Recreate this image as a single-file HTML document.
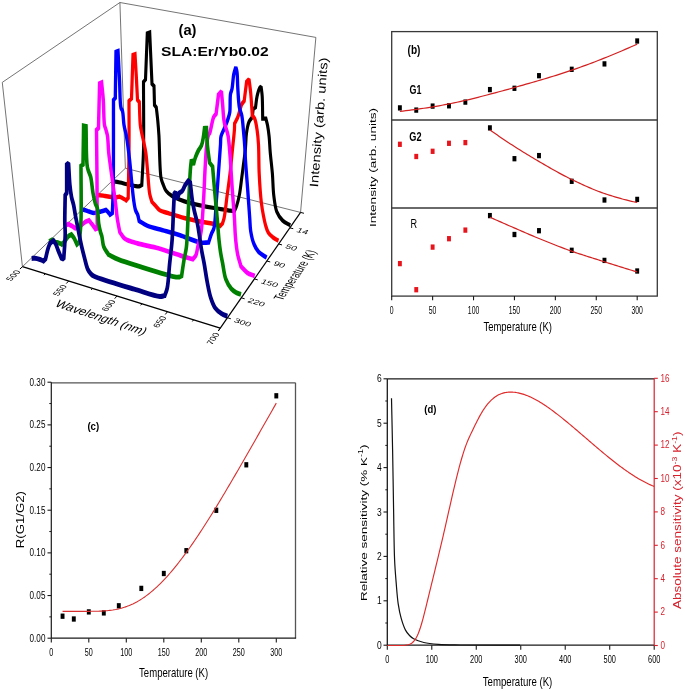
<!DOCTYPE html>
<html><head><meta charset="utf-8"><style>
html,body{margin:0;padding:0;background:#fff;}
body{width:685px;height:691px;overflow:hidden;}
svg{display:block;will-change:transform;}
text{font-family:"Liberation Sans",sans-serif;}
</style></head><body>
<svg width="685" height="691" viewBox="0 0 685 691">
<rect width="685" height="691" fill="#fff"/>
<line x1="22.43" y1="266.68" x2="2.28" y2="82.39" stroke="#505050" stroke-width="0.8"/>
<line x1="2.28" y1="82.39" x2="119.92" y2="2.5" stroke="#505050" stroke-width="0.8"/>
<line x1="119.92" y1="2.5" x2="315.86" y2="37.42" stroke="#505050" stroke-width="0.8"/>
<line x1="315.86" y1="37.42" x2="300.56" y2="212.42" stroke="#505050" stroke-width="0.8"/>
<line x1="125.37" y1="168.25" x2="119.92" y2="2.5" stroke="#505050" stroke-width="0.8"/>
<line x1="22.43" y1="266.68" x2="125.37" y2="168.25" stroke="#505050" stroke-width="0.8"/>
<line x1="125.37" y1="168.25" x2="300.56" y2="212.42" stroke="#505050" stroke-width="0.8"/>
<g transform="scale(0.74,1)" fill="none" stroke-linejoin="miter" stroke-miterlimit="1.6">
<path d="M150.68,181.8 C152.3,181.77 153.8,181.61 155.54,181.7 C157.58,181.8 159.78,182.14 162.16,182.5 C164.98,182.93 168.86,183.8 171.35,184.2 C173.06,184.48 174.08,184.55 175.68,184.8 C177.68,185.12 180.3,185.73 182.43,186 C184.33,186.24 186.22,186.63 187.84,186.4 C189.23,186.2 190.36,185.47 191.62,185 C192.39,173.33 193.47,163.59 193.92,150 C194.54,131.07 193.92,104.67 193.92,82 C194.82,81.17 195.72,80.33 196.62,79.5 C197.43,64.13 198.24,48.77 199.05,33.4 C200.14,33.1 201.22,32.8 202.3,32.5 C203.33,49.67 204.37,66.83 205.41,84 C206.31,84.67 207.21,85.33 208.11,86 C208.33,92.33 208.56,98.67 208.78,105 C209.59,105.83 210.41,106.67 211.22,107.5 C211.85,111.67 212.54,115.64 213.11,120 C213.73,124.77 214.18,128.71 214.73,135 C215.65,145.6 215.67,170.02 217.57,177.8 C218.32,180.89 219.19,181.91 220.27,184 C221.45,186.28 222.54,188.95 224.46,190.9 C226.55,193.02 228.99,194.4 232.57,196 C238.42,198.62 247.84,201.08 257.16,203.1 C269.03,205.67 289.77,207.97 298.24,209.1 C302.03,209.61 304.18,209.8 306.49,210.1 C308.16,210.32 309.25,210.55 310.81,210.7 C312.63,210.87 314.77,210.9 316.76,211 C317.75,209.3 318.77,208.01 319.73,205.9 C321.11,202.85 322.55,198.45 323.65,194.2 C324.91,189.32 325.74,183.12 326.62,178.2 C327.38,174 327.91,170.79 328.65,166.5 C329.55,161.25 330.87,154.72 331.62,149 C332.34,143.56 332.16,137.8 333.11,133 C333.91,128.92 334.87,124.7 336.49,121.9 C337.7,119.79 339.46,118.7 340.95,117.1 C341.31,114.43 341.67,111.77 342.03,109.1 C343.11,108.53 344.19,107.97 345.27,107.4 C345.99,103.67 346.43,99.58 347.43,96.2 C348.3,93.26 349.47,89.8 350.68,88.2 C351.36,87.29 352.12,87.07 352.84,86.5 C353.33,89.73 353.97,92.28 354.32,96.2 C354.87,102.13 354.77,111.2 355,118.7 C356.44,118.7 357.88,118.7 359.32,118.7 C360.05,120.83 360.84,122.64 361.49,125.1 C362.33,128.31 363.06,132.32 363.65,136.4 C364.33,141.14 364.49,146.29 365.14,151.9 C365.91,158.58 367.3,166.49 368.11,173.8 C368.92,181.09 368.87,189 370,195.7 C370.98,201.52 371.75,207.47 374.05,211.8 C375.99,215.43 378.83,218.23 381.89,220.5 C384.92,222.75 388.83,223.77 392.3,225.4" stroke="#000000" stroke-width="4.2"/>
<path d="M131.08,195.5 C132.39,195.4 133.51,195.17 135,195.2 C136.98,195.24 139.46,195.72 141.89,196 C144.64,196.32 148.01,196.74 150.68,197 C152.89,197.22 154.91,197.63 156.76,197.5 C158.33,197.39 159.64,196.83 161.08,196.5 C162.12,196.83 162.99,197.03 164.19,197.5 C165.95,198.18 168.42,199.43 170.54,200.4 C171.44,199.6 172.34,198.8 173.24,198 C173.6,182 174.14,166.08 174.32,150 C174.51,133.75 174.32,117.33 174.32,101 C175.45,100.17 176.58,99.33 177.7,98.5 C178.38,83.97 179.05,69.43 179.73,54.9 C180.63,54.67 181.53,54.43 182.43,54.2 C183.11,62.8 183.87,71.95 184.46,80 C184.98,87.09 185.36,93.33 185.81,100 C186.62,100.67 187.43,101.33 188.24,102 C188.69,109.67 188.81,119.57 189.59,125 C190.03,128.03 190.46,129.08 191.22,132 C192.5,136.97 195.53,145.46 196.89,152 C198.17,158.11 198.49,163.57 199.32,170 C200.28,177.4 200.85,188.1 202.3,193.9 C203.17,197.38 204.37,199.3 205.41,202 C206.89,203.17 208.26,204.23 209.86,205.5 C211.77,207 213.54,209.17 216.08,210.4 C219.14,211.89 222.95,212.08 227.3,213.1 C233.33,214.51 241.71,216.59 248.92,218 C256.04,219.39 263.08,220.44 270.27,221.5 C277.58,222.58 287.7,223.34 292.43,224.4 C294.72,224.91 295.77,225.47 297.43,226 C298.51,225.17 299.59,224.33 300.68,223.5 C301.44,221.53 302.23,220.24 302.97,217.6 C304.36,212.66 305.59,203 306.89,195.7 C308.2,188.4 309.66,181.11 310.81,173.8 C311.96,166.51 312.79,159.2 313.78,151.9 C314.77,144.6 316.3,135.16 316.76,130 C317,127.2 316.94,125.67 317.03,123.5 C318.47,121.37 319.95,119.69 321.35,117.1 C323.23,113.62 324.9,106.95 326.76,104.2 C327.82,102.63 328.92,102.07 330,101 C331.08,94.6 332.16,88.2 333.24,81.8 C334.32,80.93 335.41,80.07 336.49,79.2 C337.25,83.8 338.11,87.83 338.78,93 C339.65,99.57 340.23,108 340.95,115.5 C342.03,116.57 343.26,117.14 344.19,118.7 C345.67,121.2 346.6,125.96 347.43,130 C348.37,134.52 348.86,138.89 349.32,144.6 C349.97,152.65 349.62,164.08 350.27,173.8 C350.92,183.54 352,195.24 353.24,203 C354.08,208.23 355.07,212.08 356.08,216 C356.93,219.29 357.67,222.16 358.78,225 C359.85,227.71 360.81,230.6 362.57,232.7 C364.27,234.74 366.75,236.16 369.05,237.5 C371.34,238.83 373.92,239.63 376.35,240.7" stroke="#ff0000" stroke-width="4.36"/>
<path d="M110.54,210 C111.62,209.97 112.53,209.77 113.78,209.9 C115.59,210.09 118.09,210.99 120.27,211.5 C122.46,212.02 124.78,212.95 126.89,213 C128.82,213.04 130.73,212.26 132.43,212 C133.89,211.78 135.2,211.73 136.49,211.5 C137.67,211.29 138.75,210.97 139.86,210.7 C140.96,210.44 142.03,210.17 143.11,209.9 C144.05,210.6 145.04,211.22 145.95,212 C146.89,212.81 147.75,213.8 148.65,214.7 C149.68,214.13 150.72,213.57 151.76,213 C152.16,205.33 152.68,200.19 152.97,190 C153.55,169.86 153.24,130 153.38,100 C154.19,99.33 155,98.67 155.81,98 C156.13,82.63 156.44,67.27 156.76,51.9 C157.66,51.67 158.56,51.43 159.46,51.2 C160.14,60.8 160.81,70.47 161.49,80 C162.16,89.4 161.95,103.49 163.51,108 C164.07,109.62 164.98,109.54 165.54,111 C166.65,113.88 166.62,120.65 167.57,125 C168.42,128.92 169.77,131.59 170.81,136 C172.33,142.44 173.95,152.44 175.14,160.1 C176.2,167.04 176.79,173.34 177.7,180 C178.63,186.74 179.58,194.79 180.68,200.3 C181.44,204.15 182,207.42 183.11,210 C183.93,211.93 185.29,212.97 186.08,214.7 C186.94,216.57 187.34,218.83 187.97,220.9 C191.58,222.5 194.55,224.32 198.78,225.7 C204.33,227.51 213.9,228.99 218.65,230 C221.3,230.57 222.25,230.74 224.86,231.3 C229.37,232.26 236.51,233.69 243.24,235.3 C251.55,237.28 263.77,241.58 270.95,242.5 C275.38,243.07 278.24,242.5 281.89,242.5 C283.24,239.47 284.59,236 285.95,233.4 C287.02,231.33 288.3,230.59 289.19,228 C290.96,222.82 291.21,211.66 292.16,203 C293.19,193.65 294.17,183.53 295.14,173.8 C296.1,164.07 297.37,151.34 297.97,144.6 C298.29,141.03 297.83,139.06 298.65,136.4 C299.53,133.52 301.8,130.94 303.38,128 C305.09,124.83 307.27,120.95 308.51,118 C309.45,115.78 310.05,114.58 310.54,112 C311.37,107.65 310.58,98.09 311.49,94 C311.98,91.76 312.91,91.16 313.51,89 C314.53,85.38 314.85,78 315.95,74 C316.71,71.21 317.75,69.4 318.65,67.1 C319.19,68.77 319.85,69.93 320.27,72.1 C321,75.91 320.85,82.6 321.35,88.2 C321.9,94.32 322.26,102.42 323.51,107.4 C324.35,110.74 325.9,112.35 326.76,115.5 C327.86,119.58 328.25,124.77 328.92,130 C329.71,136.12 330.63,144.61 331.08,150 C331.39,153.65 331.31,155.28 331.62,159.2 C332.18,166.2 333.63,178.67 334.59,188.4 C335.56,198.13 336.66,209.72 337.43,217.6 C337.96,222.96 337.84,226.71 338.78,231.1 C339.73,235.48 341.11,240.28 343.11,243.9 C344.85,247.06 346.88,249.67 349.59,251.9 C352.55,254.32 356.8,255.7 360.41,257.6" stroke="#0000ff" stroke-width="4.52"/>
<path d="M89.05,225.5 C90.09,225 91.13,224.5 92.16,224 C93.87,224.67 95.65,225.27 97.3,226 C98.89,226.71 100.36,227.53 101.89,228.3 C103.96,227.53 106.12,226.94 108.11,226 C110.08,225.07 112.28,223.51 113.78,222.7 C114.75,222.18 115.28,221.86 116.22,221.5 C117.38,221.04 118.92,220.7 120.27,220.3 C121.17,221.2 122.06,222.13 122.97,223 C123.87,223.86 124.74,224.57 125.68,225.5 C126.76,226.57 127.93,227.9 129.05,229.1 C129.82,228.9 130.59,228.7 131.35,228.5 C131.26,212.33 131.24,196.29 131.08,180 C130.92,163.46 130.63,146.67 130.41,130 C131.31,129.33 132.21,128.67 133.11,128 C133.6,113.13 134.1,98.27 134.59,83.4 C135.5,83.13 136.4,82.87 137.3,82.6 C138.06,88.4 138.97,93.66 139.59,100 C140.34,107.57 140.05,119.91 141.22,125 C141.76,127.36 142.59,128.25 143.24,130 C143.95,131.9 144.73,133.47 145.27,136 C146.15,140.1 146.13,146.93 146.89,152.5 C147.69,158.26 148.94,164.16 150,170 C151.06,175.86 152.2,181.93 153.24,187.6 C154.22,192.9 155.19,197.79 156.08,203 C157,208.35 157.61,214.22 158.65,219.3 C159.58,223.85 160.81,227.83 161.89,232.1 C164.05,234.23 165.41,236.77 168.38,238.5 C172.55,240.93 179.16,241.93 185.68,243.4 C193.9,245.26 204.45,246.24 213.92,248.2 C223.64,250.22 234.74,253.42 243.24,255.4 C249.76,256.91 254.77,257.93 260.54,259.2 C261.98,257.8 263.79,256.79 264.86,255 C266.13,252.9 266.28,250.01 267.16,247.1 C268.25,243.49 270.03,238.5 270.95,235 C271.64,232.37 271.95,231.2 272.43,228 C273.47,221.18 274.58,206.2 275.41,195.7 C276.19,185.73 276.59,175.53 277.3,166.5 C277.91,158.67 278.33,150.39 279.32,144.6 C279.99,140.72 280.77,136.91 281.76,135 C282.25,134.04 282.8,134.13 283.38,133.1 C284.89,130.43 286.8,120.27 288.78,117.1 C289.82,115.45 290.95,114.97 292.03,113.9 C293.11,107.47 294.19,101.03 295.27,94.6 C296.58,93.5 297.88,92.4 299.19,91.3 C299.73,95.6 300.24,99.56 300.81,104.2 C301.48,109.63 301.77,117.2 302.97,121.9 C303.82,125.19 305.27,127.45 306.22,130 C307.04,132.25 307.75,133.67 308.38,136.4 C309.43,140.95 310.16,149.13 310.81,155 C311.39,160.26 311.69,164.74 312.16,170 C312.68,175.82 313.13,181.56 313.78,188.4 C314.6,197.02 316.03,209.11 316.76,217.6 C317.32,224.14 317.43,229.75 317.97,235 C318.42,239.38 318.96,243.4 319.59,247 C320.12,249.98 320.49,252.21 321.35,255.1 C322.39,258.59 324.23,262.63 325.68,266.4 C328.56,268.53 331.21,271.19 334.32,272.8 C337.39,274.38 340.9,274.93 344.19,276" stroke="#ff00ff" stroke-width="4.68"/>
<path d="M66.35,241.5 C67.66,241 68.96,240.5 70.27,240 C71.62,240.67 72.88,241.53 74.32,242 C75.81,242.48 77.52,242.4 79.05,242.8 C80.58,243.2 82.03,243.87 83.51,244.4 C84.95,243.27 86.44,242.28 87.84,241 C89.33,239.63 90.6,237.48 92.16,236.4 C93.51,235.47 95.05,235.2 96.49,234.6 C97.66,235.73 98.87,236.61 100,238 C101.41,239.73 102.7,242.27 104.05,244.4 C105.18,243.6 106.31,242.8 107.43,242 C108.11,234.67 109.05,228.96 109.46,220 C110.1,205.99 109.46,184 109.46,166 C110.36,165.5 111.26,165 112.16,164.5 C112.34,156.33 112.56,147.05 112.7,140 C112.81,134.66 112.88,130.6 112.97,125.9 C114.05,126.07 115.14,126.23 116.22,126.4 C116.85,140.03 115.97,158.5 118.11,167.3 C119.2,171.79 121.37,173.28 122.57,177 C124.05,181.59 124.47,188.19 125.68,193 C126.69,197.04 127.84,201.3 129.05,204 C129.83,205.72 130.84,206.14 131.49,208 C132.67,211.4 132.5,219.12 133.38,223.5 C134.05,226.82 134.97,229.75 135.81,232.1 C136.42,233.8 137.11,234.63 137.7,236.4 C138.59,239.05 138.64,243.56 140.14,246.6 C141.62,249.62 144.46,251.93 146.62,254.6 C150.99,256.2 154.33,257.75 159.73,259.4 C168.1,261.95 181.43,264.85 192.3,267.4 C203.14,269.95 216.45,272.98 224.86,274.7 C230.15,275.78 234.57,276.84 237.84,277.1 C239.79,277.26 241.21,277.25 242.57,277 C243.65,276.8 244.46,276.33 245.41,276 C246.49,270.67 247.51,265.03 248.65,260 C249.68,255.46 251.02,252.52 251.89,247.1 C253.32,238.18 253.61,223.53 254.46,211.2 C255.36,198.11 256.23,179.97 257.16,170.7 C257.65,165.83 258.15,163.3 258.65,159.6 C259.55,161.27 260.45,162.93 261.35,164.6 C262.25,162.23 262.95,159.81 264.05,157.5 C265.19,155.11 266.65,152.6 268.11,150.5 C269.42,148.61 271.19,147.48 272.3,145.4 C273.62,142.91 274.31,139.26 275,136.3 C275.63,133.57 275.9,130.97 276.35,128.3 C277.25,128.27 278.15,128.23 279.05,128.2 C279.5,134.27 279.67,140.53 280.41,146.4 C281.1,151.97 282.3,157.2 283.24,162.6 C284.59,163.93 285.95,165.27 287.3,166.6 C287.75,170.67 288.11,174.13 288.65,178.8 C289.38,185.1 290.46,193.7 291.35,201 C292.22,208.1 293.13,215.27 293.92,222 C294.65,228.23 295.19,234.62 295.95,240 C296.57,244.41 297.15,248.09 297.97,252 C298.78,255.81 299.75,259.14 300.81,263.2 C302.08,268.06 302.9,274.72 305.14,279.2 C307.06,283.06 310.07,286.61 312.7,288.9 C314.71,290.65 316.75,291.56 318.92,292.5 C321.07,293.43 323.42,293.83 325.68,294.5" stroke="#008000" stroke-width="4.84"/>
<path d="M42.7,258.5 C44.23,258.4 45.63,258.1 47.3,258.2 C49.34,258.33 52.02,258.98 54.05,259.5 C55.78,259.94 57.21,260.5 58.78,261 C59.68,260.33 60.59,259.67 61.49,259 C62.7,255.3 63.89,250.77 65.14,247.9 C65.98,245.95 66.85,244.77 67.7,243.2 C69.23,242.33 70.77,241.47 72.3,240.6 C73.33,241.77 74.46,242.71 75.41,244.1 C76.53,245.75 77.25,247.89 78.38,250 C79.72,252.52 81.44,255.47 82.97,258.2 C84.01,258.53 85.05,258.87 86.08,259.2 C86.76,251.03 87.96,241.62 88.11,234.7 C88.21,229.63 87.62,226.65 87.57,221.5 C87.49,214.23 87.93,203.97 88.11,195.2 C88.78,194.47 89.46,193.73 90.14,193 C90.14,183.07 90.14,173.13 90.14,163.2 C90.99,163.6 91.85,164 92.7,164.4 C93.29,171.27 93.67,179.07 94.46,185 C95.06,189.55 95.68,193.44 96.62,197 C97.41,199.97 98.61,202.1 99.46,205 C100.44,208.35 101.13,212.43 102.03,216 C102.89,219.42 103.83,222.59 104.73,226 C105.67,229.55 106.56,233.26 107.57,236.9 C108.59,240.59 109.67,244.43 110.81,248 C111.89,251.38 112.96,254.43 114.19,257.8 C115.51,261.44 116.75,266.23 118.51,269.1 C119.82,271.22 121.4,272.76 122.97,274 C124.31,275.05 125.15,275.5 127.16,276.3 C131.51,278.02 140.82,279.99 148.78,281.9 C158.51,284.23 170.31,286.72 181.35,289.1 C192.74,291.55 209.08,296.1 216.08,296.4 C219.09,296.53 220.41,295.87 222.57,295.6 C223.69,293.17 225,291.53 225.95,288.3 C227.58,282.68 228.09,272.24 229.19,264.2 C230.29,256.14 231.71,248.52 232.57,240 C233.52,230.55 233.91,218.5 234.46,210 C234.86,203.71 235.18,199.07 235.54,193.6 C236.08,193.07 236.62,192.53 237.16,192 C237.93,194.33 238.69,196.67 239.46,199 C240.36,197 241.26,195 242.16,193 C243.56,192.3 245.09,192.01 246.35,190.9 C247.92,189.53 248.96,186.64 250.41,184.9 C251.68,183.36 253.11,182.23 254.46,180.9 C255.36,181.53 256.26,182.17 257.16,182.8 C258.11,188.87 258.91,195.83 260,201 C260.82,204.91 261.65,207.67 262.7,211.2 C263.87,215.08 265.63,219.24 266.76,223.3 C267.87,227.3 268.57,231.19 269.46,235.4 C270.42,239.99 271.22,245.1 272.3,249.8 C273.34,254.36 274.62,258.32 275.81,263.2 C277.23,269.01 278.59,276.47 280.14,282.4 C281.49,287.6 282.55,292.48 284.46,296.9 C286.22,300.99 288.21,305.22 290.95,308.1 C293.41,310.69 296.82,312.42 299.73,313.8 C302.26,315 304.77,315.4 307.3,316.2" stroke="#000080" stroke-width="5"/>
</g>
<line x1="22.43" y1="266.68" x2="220.27" y2="328.14" stroke="#000" stroke-width="1.4"/>
<line x1="220.27" y1="328.14" x2="300.56" y2="212.42" stroke="#000" stroke-width="1.2"/>
<line x1="22.43" y1="266.68" x2="19.9" y2="269.1" stroke="#000" stroke-width="1"/>
<line x1="45.3" y1="273.78" x2="43.88" y2="275.2" stroke="#000" stroke-width="1"/>
<line x1="68.66" y1="281.04" x2="66.24" y2="283.57" stroke="#000" stroke-width="1"/>
<line x1="92.54" y1="288.46" x2="91.19" y2="289.94" stroke="#000" stroke-width="1"/>
<line x1="116.95" y1="296.04" x2="114.66" y2="298.68" stroke="#000" stroke-width="1"/>
<line x1="141.91" y1="303.8" x2="140.64" y2="305.34" stroke="#000" stroke-width="1"/>
<line x1="167.44" y1="311.73" x2="165.28" y2="314.48" stroke="#000" stroke-width="1"/>
<line x1="193.55" y1="319.84" x2="192.36" y2="321.45" stroke="#000" stroke-width="1"/>
<line x1="220.27" y1="328.14" x2="218.28" y2="331.02" stroke="#000" stroke-width="1"/>
<line x1="227.48" y1="317.75" x2="230.83" y2="318.77" stroke="#000" stroke-width="1"/>
<line x1="241.32" y1="297.81" x2="244.67" y2="298.8" stroke="#000" stroke-width="1"/>
<line x1="254.42" y1="278.93" x2="257.78" y2="279.89" stroke="#000" stroke-width="1"/>
<line x1="266.85" y1="261.02" x2="270.22" y2="261.95" stroke="#000" stroke-width="1"/>
<line x1="278.65" y1="244" x2="282.03" y2="244.91" stroke="#000" stroke-width="1"/>
<line x1="289.87" y1="227.83" x2="293.26" y2="228.71" stroke="#000" stroke-width="1"/>
<line x1="300.56" y1="212.42" x2="303.96" y2="213.28" stroke="#000" stroke-width="1"/>
<line x1="220.27" y1="328.14" x2="218.28" y2="331.02" stroke="#000" stroke-width="1"/>
<text x="0" y="0" font-size="8.8" fill="#000" text-anchor="end" textLength="14" lengthAdjust="spacingAndGlyphs" transform="matrix(0.72 -0.69 0.95 0.3 21.18 271.6)">500</text>
<text x="0" y="0" font-size="8.8" fill="#000" text-anchor="end" textLength="14" lengthAdjust="spacingAndGlyphs" transform="matrix(0.69 -0.72 0.95 0.3 67.59 286.14)">550</text>
<text x="0" y="0" font-size="8.8" fill="#000" text-anchor="end" textLength="14" lengthAdjust="spacingAndGlyphs" transform="matrix(0.66 -0.75 0.95 0.3 116.09 301.33)">600</text>
<text x="0" y="0" font-size="8.8" fill="#000" text-anchor="end" textLength="14" lengthAdjust="spacingAndGlyphs" transform="matrix(0.62 -0.79 0.95 0.3 166.81 317.21)">650</text>
<text x="0" y="0" font-size="8.8" fill="#000" text-anchor="end" textLength="14" lengthAdjust="spacingAndGlyphs" transform="matrix(0.57 -0.82 0.95 0.3 219.91 333.82)">700</text>
<text x="0" y="0" font-size="10" fill="#000" textLength="16.8" lengthAdjust="spacingAndGlyphs" transform="matrix(0.96 0.29 -0.41 0.59 233.22 322.01)">300</text>
<text x="0" y="0" font-size="10" fill="#000" textLength="16.8" lengthAdjust="spacingAndGlyphs" transform="matrix(0.96 0.28 -0.41 0.59 247.07 302)">220</text>
<text x="0" y="0" font-size="10" fill="#000" textLength="16.8" lengthAdjust="spacingAndGlyphs" transform="matrix(0.96 0.27 -0.41 0.59 260.19 283.05)">150</text>
<text x="0" y="0" font-size="10" fill="#000" textLength="11.2" lengthAdjust="spacingAndGlyphs" transform="matrix(0.96 0.27 -0.41 0.59 272.64 265.08)">90</text>
<text x="0" y="0" font-size="10" fill="#000" textLength="11.2" lengthAdjust="spacingAndGlyphs" transform="matrix(0.97 0.26 -0.41 0.59 284.46 248.01)">50</text>
<text x="0" y="0" font-size="10" fill="#000" textLength="11.2" lengthAdjust="spacingAndGlyphs" transform="matrix(0.97 0.25 -0.41 0.59 295.7 231.78)">14</text>
<text x="0" y="0" font-size="12.5" fill="#000" text-anchor="middle" textLength="94" lengthAdjust="spacingAndGlyphs" transform="matrix(0.95 0.31 -0.66 0.75 98.53 320.6)">Wavelength (nm)</text>
<text x="0" y="0" font-size="13.8" fill="#000" text-anchor="middle" textLength="60" lengthAdjust="spacingAndGlyphs" transform="matrix(0.57 -0.82 0.96 0.27 299.45 276.3)">Temperature (K)</text>
<text x="0" y="0" font-size="12.2" fill="#000" textLength="130" lengthAdjust="spacingAndGlyphs" transform="translate(318,187.4) rotate(-85.6)">Intensity (arb. units)</text>
<text x="178.5" y="35.2" font-size="14.8" fill="#000" font-weight="bold" textLength="18" lengthAdjust="spacingAndGlyphs">(a)</text>
<text x="161" y="56.4" font-size="12.8" fill="#000" font-weight="bold" textLength="107.6" lengthAdjust="spacingAndGlyphs">SLA:Er/Yb0.02</text>
<rect x="391.7" y="31.6" width="265.6" height="264.5" fill="none" stroke="#383838" stroke-width="1.3"/>
<line x1="391.7" y1="120" x2="657.3" y2="120" stroke="#383838" stroke-width="1.4"/>
<line x1="391.7" y1="208" x2="657.3" y2="208" stroke="#383838" stroke-width="1.4"/>
<line x1="391.7" y1="296.1" x2="391.7" y2="300.3" stroke="#1a1a1a" stroke-width="1.1"/>
<text x="391.7" y="313.9" font-size="10" fill="#000" text-anchor="middle" textLength="3.8" lengthAdjust="spacingAndGlyphs">0</text>
<line x1="432.62" y1="296.1" x2="432.62" y2="300.3" stroke="#1a1a1a" stroke-width="1.1"/>
<text x="432.62" y="313.9" font-size="10" fill="#000" text-anchor="middle" textLength="7.6" lengthAdjust="spacingAndGlyphs">50</text>
<line x1="473.53" y1="296.1" x2="473.53" y2="300.3" stroke="#1a1a1a" stroke-width="1.1"/>
<text x="473.53" y="313.9" font-size="10" fill="#000" text-anchor="middle" textLength="11.4" lengthAdjust="spacingAndGlyphs">100</text>
<line x1="514.44" y1="296.1" x2="514.44" y2="300.3" stroke="#1a1a1a" stroke-width="1.1"/>
<text x="514.44" y="313.9" font-size="10" fill="#000" text-anchor="middle" textLength="11.4" lengthAdjust="spacingAndGlyphs">150</text>
<line x1="555.36" y1="296.1" x2="555.36" y2="300.3" stroke="#1a1a1a" stroke-width="1.1"/>
<text x="555.36" y="313.9" font-size="10" fill="#000" text-anchor="middle" textLength="11.4" lengthAdjust="spacingAndGlyphs">200</text>
<line x1="596.27" y1="296.1" x2="596.27" y2="300.3" stroke="#1a1a1a" stroke-width="1.1"/>
<text x="596.27" y="313.9" font-size="10" fill="#000" text-anchor="middle" textLength="11.4" lengthAdjust="spacingAndGlyphs">250</text>
<line x1="637.19" y1="296.1" x2="637.19" y2="300.3" stroke="#1a1a1a" stroke-width="1.1"/>
<text x="637.19" y="313.9" font-size="10" fill="#000" text-anchor="middle" textLength="11.4" lengthAdjust="spacingAndGlyphs">300</text>
<text x="483.4" y="331.4" font-size="13.2" fill="#000" textLength="68.6" lengthAdjust="spacingAndGlyphs">Temperature (K)</text>
<text x="0" y="0" font-size="9.4" fill="#000" textLength="119" lengthAdjust="spacingAndGlyphs" transform="translate(376.3,227) rotate(-90)">Intensity (arb. units)</text>
<text x="407.6" y="53.8" font-size="12.6" fill="#000" font-weight="bold" textLength="12.9" lengthAdjust="spacingAndGlyphs">(b)</text>
<text x="409.6" y="94" font-size="12.8" fill="#000" font-weight="bold" textLength="11.9" lengthAdjust="spacingAndGlyphs">G1</text>
<text x="409.3" y="140.5" font-size="12.8" fill="#000" font-weight="bold" textLength="12.2" lengthAdjust="spacingAndGlyphs">G2</text>
<text x="410.6" y="227.8" font-size="13.2" fill="#000" textLength="6.6" lengthAdjust="spacingAndGlyphs">R</text>
<rect x="397.93" y="105.25" width="3.9" height="5.3" fill="#000"/>
<rect x="397.93" y="141.65" width="3.9" height="5.3" fill="#e8141c"/>
<rect x="397.93" y="260.95" width="3.9" height="5.3" fill="#e8141c"/>
<rect x="414.3" y="107.45" width="3.9" height="5.3" fill="#000"/>
<rect x="414.3" y="153.85" width="3.9" height="5.3" fill="#e8141c"/>
<rect x="414.3" y="287.05" width="3.9" height="5.3" fill="#e8141c"/>
<rect x="430.67" y="103.45" width="3.9" height="5.3" fill="#000"/>
<rect x="430.67" y="148.65" width="3.9" height="5.3" fill="#e8141c"/>
<rect x="430.67" y="244.45" width="3.9" height="5.3" fill="#e8141c"/>
<rect x="447.03" y="103.15" width="3.9" height="5.3" fill="#000"/>
<rect x="447.03" y="140.65" width="3.9" height="5.3" fill="#e8141c"/>
<rect x="447.03" y="236.05" width="3.9" height="5.3" fill="#e8141c"/>
<rect x="463.4" y="99.45" width="3.9" height="5.3" fill="#000"/>
<rect x="463.4" y="139.95" width="3.9" height="5.3" fill="#e8141c"/>
<rect x="463.4" y="227.45" width="3.9" height="5.3" fill="#e8141c"/>
<rect x="487.95" y="86.95" width="3.9" height="5.3" fill="#000"/>
<rect x="487.95" y="125.25" width="3.9" height="5.3" fill="#000"/>
<rect x="487.95" y="212.95" width="3.9" height="5.3" fill="#000"/>
<rect x="512.49" y="85.65" width="3.9" height="5.3" fill="#000"/>
<rect x="512.49" y="156.05" width="3.9" height="5.3" fill="#000"/>
<rect x="512.49" y="231.85" width="3.9" height="5.3" fill="#000"/>
<rect x="537.04" y="73.05" width="3.9" height="5.3" fill="#000"/>
<rect x="537.04" y="152.95" width="3.9" height="5.3" fill="#000"/>
<rect x="537.04" y="228.05" width="3.9" height="5.3" fill="#000"/>
<rect x="569.78" y="66.65" width="3.9" height="5.3" fill="#000"/>
<rect x="569.78" y="178.65" width="3.9" height="5.3" fill="#000"/>
<rect x="569.78" y="247.65" width="3.9" height="5.3" fill="#000"/>
<rect x="602.51" y="61.25" width="3.9" height="5.3" fill="#000"/>
<rect x="602.51" y="197.35" width="3.9" height="5.3" fill="#000"/>
<rect x="602.51" y="257.75" width="3.9" height="5.3" fill="#000"/>
<rect x="635.24" y="38.35" width="3.9" height="5.3" fill="#000"/>
<rect x="635.24" y="196.75" width="3.9" height="5.3" fill="#000"/>
<rect x="635.24" y="268.35" width="3.9" height="5.3" fill="#000"/>
<polyline points="399.88,111.4 402.89,111.07 405.89,110.72 408.89,110.35 411.9,109.96 414.9,109.56 417.91,109.14 420.91,108.71 423.91,108.27 426.92,107.81 429.92,107.33 432.93,106.85 435.93,106.35 438.93,105.82 441.94,105.27 444.94,104.7 447.95,104.11 450.95,103.5 453.95,102.88 456.96,102.24 459.96,101.59 462.96,100.93 465.97,100.26 468.97,99.57 471.98,98.84 474.98,98.09 477.98,97.33 480.99,96.54 483.99,95.76 487,94.96 490,94.17 493,93.38 496.01,92.58 499.01,91.78 502.02,90.96 505.02,90.14 508.02,89.31 511.03,88.47 514.03,87.62 517.03,86.76 520.04,85.91 523.04,85.05 526.05,84.2 529.05,83.34 532.05,82.48 535.06,81.61 538.06,80.74 541.07,79.86 544.07,78.97 547.07,78.07 550.08,77.17 553.08,76.25 556.09,75.31 559.09,74.37 562.09,73.4 565.1,72.42 568.1,71.43 571.1,70.41 574.11,69.38 577.11,68.33 580.12,67.26 583.12,66.18 586.12,65.08 589.13,63.96 592.13,62.83 595.14,61.69 598.14,60.52 601.14,59.35 604.15,58.15 607.15,56.95 610.16,55.73 613.16,54.49 616.16,53.24 619.17,51.98 622.17,50.7 625.17,49.4 628.18,48.1 631.18,46.78 634.19,45.45 637.19,44.1" fill="none" stroke="#d42020" stroke-width="1.2"/>
<polyline points="489.9,129.9 491.76,131.22 493.62,132.53 495.49,133.82 497.35,135.11 499.22,136.4 501.08,137.67 502.95,138.93 504.81,140.18 506.68,141.43 508.54,142.66 510.41,143.88 512.27,145.1 514.13,146.3 516,147.49 517.86,148.68 519.73,149.86 521.59,151.02 523.46,152.18 525.32,153.33 527.19,154.47 529.05,155.61 530.91,156.73 532.78,157.85 534.64,158.95 536.51,160.05 538.37,161.14 540.24,162.22 542.1,163.3 543.97,164.39 545.83,165.47 547.69,166.54 549.56,167.62 551.42,168.68 553.29,169.74 555.15,170.79 557.02,171.83 558.88,172.86 560.75,173.87 562.61,174.87 564.48,175.85 566.34,176.82 568.2,177.77 570.07,178.69 571.93,179.6 573.8,180.49 575.66,181.39 577.53,182.27 579.39,183.15 581.26,184.01 583.12,184.87 584.98,185.72 586.85,186.55 588.71,187.37 590.58,188.17 592.44,188.96 594.31,189.72 596.17,190.47 598.04,191.19 599.9,191.89 601.76,192.57 603.63,193.22 605.49,193.85 607.36,194.46 609.22,195.06 611.09,195.66 612.95,196.24 614.82,196.81 616.68,197.37 618.55,197.91 620.41,198.44 622.27,198.96 624.14,199.46 626,199.94 627.87,200.41 629.73,200.87 631.6,201.3 633.46,201.72 635.33,202.12 637.19,202.5" fill="none" stroke="#d42020" stroke-width="1.2"/>
<polyline points="489.9,217.2 491.76,218.03 493.62,218.86 495.49,219.69 497.35,220.51 499.22,221.34 501.08,222.16 502.95,222.98 504.81,223.8 506.68,224.62 508.54,225.43 510.41,226.24 512.27,227.06 514.13,227.87 516,228.67 517.86,229.49 519.73,230.3 521.59,231.11 523.46,231.92 525.32,232.73 527.19,233.53 529.05,234.33 530.91,235.13 532.78,235.92 534.64,236.7 536.51,237.48 538.37,238.25 540.24,239.01 542.1,239.77 543.97,240.52 545.83,241.28 547.69,242.03 549.56,242.78 551.42,243.52 553.29,244.26 555.15,244.99 557.02,245.72 558.88,246.44 560.75,247.16 562.61,247.87 564.48,248.57 566.34,249.26 568.2,249.94 570.07,250.61 571.93,251.27 573.8,251.92 575.66,252.57 577.53,253.2 579.39,253.82 581.26,254.44 583.12,255.05 584.98,255.65 586.85,256.25 588.71,256.84 590.58,257.43 592.44,258.02 594.31,258.61 596.17,259.19 598.04,259.78 599.9,260.36 601.76,260.95 603.63,261.54 605.49,262.13 607.36,262.72 609.22,263.31 611.09,263.9 612.95,264.48 614.82,265.07 616.68,265.66 618.55,266.24 620.41,266.82 622.27,267.4 624.14,267.98 626,268.56 627.87,269.14 629.73,269.71 631.6,270.29 633.46,270.86 635.33,271.43 637.19,272" fill="none" stroke="#d42020" stroke-width="1.2"/>
<line x1="51.3" y1="382.8" x2="295.5" y2="382.8" stroke="#555" stroke-width="1.3"/>
<line x1="295.5" y1="382.8" x2="295.5" y2="638.2" stroke="#555" stroke-width="1.3"/>
<line x1="51.3" y1="382.2" x2="51.3" y2="638.2" stroke="#1a1a1a" stroke-width="1.2"/>
<line x1="51.3" y1="638.2" x2="296.1" y2="638.2" stroke="#1a1a1a" stroke-width="1.3"/>
<line x1="51.3" y1="638.2" x2="51.3" y2="642.4" stroke="#1a1a1a" stroke-width="1.1"/>
<text x="51.3" y="655.8" font-size="10" fill="#000" text-anchor="middle" textLength="4" lengthAdjust="spacingAndGlyphs">0</text>
<line x1="88.8" y1="638.2" x2="88.8" y2="642.4" stroke="#1a1a1a" stroke-width="1.1"/>
<text x="88.8" y="655.8" font-size="10" fill="#000" text-anchor="middle" textLength="8" lengthAdjust="spacingAndGlyphs">50</text>
<line x1="126.3" y1="638.2" x2="126.3" y2="642.4" stroke="#1a1a1a" stroke-width="1.1"/>
<text x="126.3" y="655.8" font-size="10" fill="#000" text-anchor="middle" textLength="12" lengthAdjust="spacingAndGlyphs">100</text>
<line x1="163.8" y1="638.2" x2="163.8" y2="642.4" stroke="#1a1a1a" stroke-width="1.1"/>
<text x="163.8" y="655.8" font-size="10" fill="#000" text-anchor="middle" textLength="12" lengthAdjust="spacingAndGlyphs">150</text>
<line x1="201.3" y1="638.2" x2="201.3" y2="642.4" stroke="#1a1a1a" stroke-width="1.1"/>
<text x="201.3" y="655.8" font-size="10" fill="#000" text-anchor="middle" textLength="12" lengthAdjust="spacingAndGlyphs">200</text>
<line x1="238.8" y1="638.2" x2="238.8" y2="642.4" stroke="#1a1a1a" stroke-width="1.1"/>
<text x="238.8" y="655.8" font-size="10" fill="#000" text-anchor="middle" textLength="12" lengthAdjust="spacingAndGlyphs">250</text>
<line x1="276.3" y1="638.2" x2="276.3" y2="642.4" stroke="#1a1a1a" stroke-width="1.1"/>
<text x="276.3" y="655.8" font-size="10" fill="#000" text-anchor="middle" textLength="12" lengthAdjust="spacingAndGlyphs">300</text>
<line x1="51.3" y1="638.2" x2="47.5" y2="638.2" stroke="#1a1a1a" stroke-width="1.1"/>
<text x="45.4" y="641.7" font-size="10" fill="#000" text-anchor="end" textLength="15.8" lengthAdjust="spacingAndGlyphs">0.00</text>
<line x1="51.3" y1="616.87" x2="49.3" y2="616.87" stroke="#1a1a1a" stroke-width="1"/>
<line x1="51.3" y1="595.54" x2="47.5" y2="595.54" stroke="#1a1a1a" stroke-width="1.1"/>
<text x="45.4" y="599.04" font-size="10" fill="#000" text-anchor="end" textLength="15.8" lengthAdjust="spacingAndGlyphs">0.05</text>
<line x1="51.3" y1="574.2" x2="49.3" y2="574.2" stroke="#1a1a1a" stroke-width="1"/>
<line x1="51.3" y1="552.87" x2="47.5" y2="552.87" stroke="#1a1a1a" stroke-width="1.1"/>
<text x="45.4" y="556.37" font-size="10" fill="#000" text-anchor="end" textLength="15.8" lengthAdjust="spacingAndGlyphs">0.10</text>
<line x1="51.3" y1="531.54" x2="49.3" y2="531.54" stroke="#1a1a1a" stroke-width="1"/>
<line x1="51.3" y1="510.21" x2="47.5" y2="510.21" stroke="#1a1a1a" stroke-width="1.1"/>
<text x="45.4" y="513.71" font-size="10" fill="#000" text-anchor="end" textLength="15.8" lengthAdjust="spacingAndGlyphs">0.15</text>
<line x1="51.3" y1="488.87" x2="49.3" y2="488.87" stroke="#1a1a1a" stroke-width="1"/>
<line x1="51.3" y1="467.54" x2="47.5" y2="467.54" stroke="#1a1a1a" stroke-width="1.1"/>
<text x="45.4" y="471.04" font-size="10" fill="#000" text-anchor="end" textLength="15.8" lengthAdjust="spacingAndGlyphs">0.20</text>
<line x1="51.3" y1="446.21" x2="49.3" y2="446.21" stroke="#1a1a1a" stroke-width="1"/>
<line x1="51.3" y1="424.88" x2="47.5" y2="424.88" stroke="#1a1a1a" stroke-width="1.1"/>
<text x="45.4" y="428.38" font-size="10" fill="#000" text-anchor="end" textLength="15.8" lengthAdjust="spacingAndGlyphs">0.25</text>
<line x1="51.3" y1="403.54" x2="49.3" y2="403.54" stroke="#1a1a1a" stroke-width="1"/>
<line x1="51.3" y1="382.21" x2="47.5" y2="382.21" stroke="#1a1a1a" stroke-width="1.1"/>
<text x="45.4" y="385.71" font-size="10" fill="#000" text-anchor="end" textLength="15.8" lengthAdjust="spacingAndGlyphs">0.30</text>
<text x="139.1" y="677.2" font-size="13.5" fill="#000" textLength="69" lengthAdjust="spacingAndGlyphs">Temperature (K)</text>
<text x="0" y="0" font-size="10.5" fill="#000" textLength="57.2" lengthAdjust="spacingAndGlyphs" transform="translate(23.8,548.2) rotate(-90)">R(G1/G2)</text>
<text x="87.4" y="429.6" font-size="10.8" fill="#000" font-weight="bold" textLength="11.8" lengthAdjust="spacingAndGlyphs">(c)</text>
<rect x="60.6" y="613.55" width="3.9" height="5.3" fill="#000"/>
<rect x="71.85" y="616.35" width="3.9" height="5.3" fill="#000"/>
<rect x="86.85" y="609.25" width="3.9" height="5.3" fill="#000"/>
<rect x="101.85" y="610.25" width="3.9" height="5.3" fill="#000"/>
<rect x="116.85" y="603.15" width="3.9" height="5.3" fill="#000"/>
<rect x="139.35" y="585.75" width="3.9" height="5.3" fill="#000"/>
<rect x="161.85" y="570.85" width="3.9" height="5.3" fill="#000"/>
<rect x="184.35" y="548.05" width="3.9" height="5.3" fill="#000"/>
<rect x="214.35" y="507.65" width="3.9" height="5.3" fill="#000"/>
<rect x="244.35" y="462.15" width="3.9" height="5.3" fill="#000"/>
<rect x="274.35" y="393.15" width="3.9" height="5.3" fill="#000"/>
<polyline points="62.55,611.35 63.98,611.35 65.42,611.35 66.85,611.35 68.29,611.35 69.72,611.35 71.16,611.35 72.59,611.35 74.03,611.35 75.46,611.35 76.9,611.35 78.33,611.35 79.76,611.35 81.2,611.35 82.63,611.35 84.07,611.35 85.5,611.35 86.94,611.34 88.37,611.34 89.81,611.33 91.24,611.32 92.68,611.31 94.11,611.29 95.54,611.26 96.98,611.23 98.41,611.19 99.85,611.14 101.28,611.08 102.72,611.01 104.15,610.92 105.59,610.81 107.02,610.69 108.46,610.55 109.89,610.39 111.33,610.21 112.76,610.01 114.19,609.77 115.63,609.52 117.06,609.23 118.5,608.92 119.93,608.57 121.37,608.19 122.8,607.78 124.24,607.34 125.67,606.86 127.11,606.35 128.54,605.8 129.97,605.21 131.41,604.58 132.84,603.92 134.28,603.21 135.71,602.47 137.15,601.69 138.58,600.87 140.02,600.01 141.45,599.11 142.89,598.16 144.32,597.18 145.75,596.16 147.19,595.1 148.62,594 150.06,592.86 151.49,591.68 152.93,590.47 154.36,589.21 155.8,587.92 157.23,586.59 158.67,585.22 160.1,583.81 161.53,582.37 162.97,580.9 164.4,579.39 165.84,577.84 167.27,576.26 168.71,574.65 170.14,573.01 171.58,571.33 173.01,569.62 174.45,567.89 175.88,566.12 177.32,564.32 178.75,562.5 180.18,560.65 181.62,558.77 183.05,556.86 184.49,554.93 185.92,552.97 187.36,550.99 188.79,548.98 190.23,546.95 191.66,544.9 193.1,542.83 194.53,540.74 195.96,538.62 197.4,536.49 198.83,534.33 200.27,532.16 201.7,529.97 203.14,527.76 204.57,525.53 206.01,523.29 207.44,521.04 208.88,518.76 210.31,516.48 211.74,514.17 213.18,511.86 214.61,509.53 216.05,507.19 217.48,504.84 218.92,502.48 220.35,500.1 221.79,497.72 223.22,495.32 224.66,492.92 226.09,490.5 227.52,488.08 228.96,485.65 230.39,483.21 231.83,480.76 233.26,478.31 234.7,475.85 236.13,473.38 237.57,470.91 239,468.43 240.44,465.95 241.87,463.46 243.31,460.97 244.74,458.47 246.17,455.97 247.61,453.47 249.04,450.96 250.48,448.45 251.91,445.94 253.35,443.43 254.78,440.91 256.22,438.4 257.65,435.88 259.09,433.36 260.52,430.83 261.95,428.31 263.39,425.79 264.82,423.27 266.26,420.75 267.69,418.22 269.13,415.7 270.56,413.18 272,410.66 273.43,408.14 274.87,405.63 276.3,403.11" fill="none" stroke="#d83030" stroke-width="1.1"/>
<line x1="387.3" y1="378.8" x2="654.2" y2="378.8" stroke="#1a1a1a" stroke-width="1.3"/>
<line x1="387.3" y1="645.2" x2="654.2" y2="645.2" stroke="#1a1a1a" stroke-width="1.3"/>
<line x1="387.3" y1="378.8" x2="387.3" y2="645.2" stroke="#1a1a1a" stroke-width="1.3"/>
<line x1="654.2" y1="378.2" x2="654.2" y2="645.8" stroke="#d8202c" stroke-width="1.2"/>
<line x1="387.3" y1="645.2" x2="387.3" y2="649.7" stroke="#1a1a1a" stroke-width="1.1"/>
<text x="387.3" y="662.8" font-size="10" fill="#000" text-anchor="middle" textLength="4.1" lengthAdjust="spacingAndGlyphs">0</text>
<line x1="431.78" y1="645.2" x2="431.78" y2="649.7" stroke="#1a1a1a" stroke-width="1.1"/>
<text x="431.78" y="662.8" font-size="10" fill="#000" text-anchor="middle" textLength="12.3" lengthAdjust="spacingAndGlyphs">100</text>
<line x1="476.27" y1="645.2" x2="476.27" y2="649.7" stroke="#1a1a1a" stroke-width="1.1"/>
<text x="476.27" y="662.8" font-size="10" fill="#000" text-anchor="middle" textLength="12.3" lengthAdjust="spacingAndGlyphs">200</text>
<line x1="520.75" y1="645.2" x2="520.75" y2="649.7" stroke="#1a1a1a" stroke-width="1.1"/>
<text x="520.75" y="662.8" font-size="10" fill="#000" text-anchor="middle" textLength="12.3" lengthAdjust="spacingAndGlyphs">300</text>
<line x1="565.23" y1="645.2" x2="565.23" y2="649.7" stroke="#1a1a1a" stroke-width="1.1"/>
<text x="565.23" y="662.8" font-size="10" fill="#000" text-anchor="middle" textLength="12.3" lengthAdjust="spacingAndGlyphs">400</text>
<line x1="609.72" y1="645.2" x2="609.72" y2="649.7" stroke="#1a1a1a" stroke-width="1.1"/>
<text x="609.72" y="662.8" font-size="10" fill="#000" text-anchor="middle" textLength="12.3" lengthAdjust="spacingAndGlyphs">500</text>
<line x1="654.2" y1="645.2" x2="654.2" y2="649.7" stroke="#1a1a1a" stroke-width="1.1"/>
<text x="654.2" y="662.8" font-size="10" fill="#000" text-anchor="middle" textLength="12.3" lengthAdjust="spacingAndGlyphs">600</text>
<line x1="387.3" y1="645.2" x2="383.5" y2="645.2" stroke="#1a1a1a" stroke-width="1.1"/>
<text x="381.6" y="648.7" font-size="10" fill="#000" text-anchor="end" textLength="4.7" lengthAdjust="spacingAndGlyphs">0</text>
<line x1="387.3" y1="623" x2="385.3" y2="623" stroke="#1a1a1a" stroke-width="1"/>
<line x1="387.3" y1="600.8" x2="383.5" y2="600.8" stroke="#1a1a1a" stroke-width="1.1"/>
<text x="381.6" y="604.3" font-size="10" fill="#000" text-anchor="end" textLength="4.7" lengthAdjust="spacingAndGlyphs">1</text>
<line x1="387.3" y1="578.6" x2="385.3" y2="578.6" stroke="#1a1a1a" stroke-width="1"/>
<line x1="387.3" y1="556.4" x2="383.5" y2="556.4" stroke="#1a1a1a" stroke-width="1.1"/>
<text x="381.6" y="559.9" font-size="10" fill="#000" text-anchor="end" textLength="4.7" lengthAdjust="spacingAndGlyphs">2</text>
<line x1="387.3" y1="534.2" x2="385.3" y2="534.2" stroke="#1a1a1a" stroke-width="1"/>
<line x1="387.3" y1="512" x2="383.5" y2="512" stroke="#1a1a1a" stroke-width="1.1"/>
<text x="381.6" y="515.5" font-size="10" fill="#000" text-anchor="end" textLength="4.7" lengthAdjust="spacingAndGlyphs">3</text>
<line x1="387.3" y1="489.8" x2="385.3" y2="489.8" stroke="#1a1a1a" stroke-width="1"/>
<line x1="387.3" y1="467.6" x2="383.5" y2="467.6" stroke="#1a1a1a" stroke-width="1.1"/>
<text x="381.6" y="471.1" font-size="10" fill="#000" text-anchor="end" textLength="4.7" lengthAdjust="spacingAndGlyphs">4</text>
<line x1="387.3" y1="445.4" x2="385.3" y2="445.4" stroke="#1a1a1a" stroke-width="1"/>
<line x1="387.3" y1="423.2" x2="383.5" y2="423.2" stroke="#1a1a1a" stroke-width="1.1"/>
<text x="381.6" y="426.7" font-size="10" fill="#000" text-anchor="end" textLength="4.7" lengthAdjust="spacingAndGlyphs">5</text>
<line x1="387.3" y1="401" x2="385.3" y2="401" stroke="#1a1a1a" stroke-width="1"/>
<line x1="387.3" y1="378.8" x2="383.5" y2="378.8" stroke="#1a1a1a" stroke-width="1.1"/>
<text x="381.6" y="382.3" font-size="10" fill="#000" text-anchor="end" textLength="4.7" lengthAdjust="spacingAndGlyphs">6</text>
<line x1="654.2" y1="645.5" x2="657.8" y2="645.5" stroke="#d8202c" stroke-width="1.1"/>
<text x="660.5" y="648.8" font-size="10" fill="#d8202c" textLength="4.5" lengthAdjust="spacingAndGlyphs">0</text>
<line x1="654.2" y1="612.1" x2="657.8" y2="612.1" stroke="#d8202c" stroke-width="1.1"/>
<text x="660.5" y="615.4" font-size="10" fill="#d8202c" textLength="4.5" lengthAdjust="spacingAndGlyphs">2</text>
<line x1="654.2" y1="578.7" x2="657.8" y2="578.7" stroke="#d8202c" stroke-width="1.1"/>
<text x="660.5" y="582" font-size="10" fill="#d8202c" textLength="4.5" lengthAdjust="spacingAndGlyphs">4</text>
<line x1="654.2" y1="545.3" x2="657.8" y2="545.3" stroke="#d8202c" stroke-width="1.1"/>
<text x="660.5" y="548.6" font-size="10" fill="#d8202c" textLength="4.5" lengthAdjust="spacingAndGlyphs">6</text>
<line x1="654.2" y1="511.9" x2="657.8" y2="511.9" stroke="#d8202c" stroke-width="1.1"/>
<text x="660.5" y="515.2" font-size="10" fill="#d8202c" textLength="4.5" lengthAdjust="spacingAndGlyphs">8</text>
<line x1="654.2" y1="478.5" x2="657.8" y2="478.5" stroke="#d8202c" stroke-width="1.1"/>
<text x="660.5" y="481.8" font-size="10" fill="#d8202c" textLength="9" lengthAdjust="spacingAndGlyphs">10</text>
<line x1="654.2" y1="445.1" x2="657.8" y2="445.1" stroke="#d8202c" stroke-width="1.1"/>
<text x="660.5" y="448.4" font-size="10" fill="#d8202c" textLength="9" lengthAdjust="spacingAndGlyphs">12</text>
<line x1="654.2" y1="411.7" x2="657.8" y2="411.7" stroke="#d8202c" stroke-width="1.1"/>
<text x="660.5" y="415" font-size="10" fill="#d8202c" textLength="9" lengthAdjust="spacingAndGlyphs">14</text>
<line x1="654.2" y1="378.3" x2="657.8" y2="378.3" stroke="#d8202c" stroke-width="1.1"/>
<text x="660.5" y="381.6" font-size="10" fill="#d8202c" textLength="9" lengthAdjust="spacingAndGlyphs">16</text>
<text x="482.8" y="685.9" font-size="13.2" fill="#000" textLength="69.5" lengthAdjust="spacingAndGlyphs">Temperature (K)</text>
<text x="424.3" y="413" font-size="11.3" fill="#000" font-weight="bold" textLength="12.1" lengthAdjust="spacingAndGlyphs">(d)</text>
<text transform="translate(366.9,601) rotate(-90)" font-size="9.8" textLength="156.4" lengthAdjust="spacingAndGlyphs" fill="#000">Relative sensitivity (% K<tspan font-size="6.5" dy="-4">-1</tspan><tspan dy="4">)</tspan></text>
<text transform="translate(681.1,609) rotate(-90)" font-size="10.4" textLength="177.5" lengthAdjust="spacingAndGlyphs" fill="#d8202c">Absolute sensitivity (x10<tspan font-size="6.8" dy="-4">-3</tspan><tspan dy="4"> K</tspan><tspan font-size="6.8" dy="-4">-1</tspan><tspan dy="4">)</tspan></text>
<path d="M391.5,398.3 C391.87,415.53 392.26,432.13 392.6,450 C392.97,469.26 393.25,490.91 393.6,510 C393.92,527.43 394.01,546.73 394.6,560 C394.99,568.79 395.5,574.6 396.1,581.9 C396.7,589.2 397.22,597.26 398.2,603.8 C399.01,609.18 399.9,613.85 401.2,618.4 C402.39,622.56 403.85,627.04 405.5,630.1 C406.71,632.35 408.05,634 409.5,635.5 C410.78,636.83 411.82,637.8 413.6,638.8 C416.15,640.24 420.04,641.59 423.8,642.5 C428.18,643.57 433.03,643.98 438.4,644.4 C444.95,644.91 451.21,644.86 460.3,645 C475.31,645.23 500.1,645.13 520,645.2" fill="none" stroke="#111" stroke-width="1.2"/>
<polyline points="387.3,645.5 404,645.5 407.8,644.81 408.75,644.54 409.7,644.2 410.65,643.75 411.61,643.18 412.56,642.45 413.51,641.54 414.46,640.44 415.41,639.11 416.36,637.53 417.31,635.68 418.26,633.54 419.22,631.08 420.17,628.31 421.12,625.27 422.07,622 423.02,618.53 423.97,614.89 424.92,611.14 425.88,607.29 426.83,603.4 427.78,599.5 428.73,595.6 429.68,591.71 430.63,587.82 431.58,583.94 432.54,580.06 433.49,576.17 434.44,572.27 435.39,568.37 436.34,564.45 437.29,560.53 438.24,556.58 439.19,552.61 440.15,548.63 441.1,544.62 442.05,540.58 443,536.51 443.95,532.41 444.9,528.27 445.85,524.1 446.81,519.91 447.76,515.7 448.71,511.48 449.66,507.26 450.61,503.06 451.56,498.88 452.51,494.73 453.46,490.62 454.42,486.57 455.37,482.58 456.32,478.66 457.27,474.83 458.22,471.08 459.17,467.44 460.12,463.91 461.08,460.5 462.03,457.22 462.98,454.09 463.93,451.1 464.88,448.28 465.83,445.62 466.78,443.13 467.74,440.78 468.69,438.55 469.64,436.42 470.59,434.37 471.54,432.38 472.49,430.42 473.44,428.47 474.39,426.53 475.35,424.59 476.3,422.67 477.25,420.77 478.2,418.92 479.15,417.11 480.1,415.36 481.05,413.68 482.01,412.08 482.96,410.55 483.91,409.1 484.86,407.72 485.81,406.4 486.76,405.16 487.71,403.99 488.66,402.88 489.62,401.83 490.57,400.85 491.52,399.93 492.47,399.07 493.42,398.27 494.37,397.53 495.32,396.84 496.28,396.2 497.23,395.62 498.18,395.08 499.13,394.6 500.08,394.16 501.03,393.77 501.98,393.43 502.94,393.12 503.89,392.86 504.84,392.64 505.79,392.46 506.74,392.31 507.69,392.2 508.64,392.12 509.59,392.08 510.55,392.07 511.5,392.08 512.45,392.13 513.4,392.2 514.35,392.29 515.3,392.41 516.25,392.55 517.21,392.71 518.16,392.9 519.11,393.1 520.06,393.32 521.01,393.57 521.96,393.83 522.91,394.12 523.86,394.42 524.82,394.74 525.77,395.09 526.72,395.44 527.67,395.82 528.62,396.21 529.57,396.62 530.52,397.05 531.48,397.49 532.43,397.95 533.38,398.42 534.33,398.91 535.28,399.42 536.23,399.93 537.18,400.46 538.14,401.01 539.09,401.57 540.04,402.14 540.99,402.72 541.94,403.31 542.89,403.92 543.84,404.54 544.79,405.17 545.75,405.8 546.7,406.45 547.65,407.11 548.6,407.78 549.55,408.46 550.5,409.14 551.45,409.84 552.41,410.54 553.36,411.25 554.31,411.96 555.26,412.69 556.21,413.42 557.16,414.15 558.11,414.89 559.06,415.64 560.02,416.39 560.97,417.14 561.92,417.9 562.87,418.67 563.82,419.44 564.77,420.21 565.72,420.99 566.68,421.77 567.63,422.56 568.58,423.34 569.53,424.13 570.48,424.93 571.43,425.73 572.38,426.53 573.34,427.33 574.29,428.13 575.24,428.94 576.19,429.75 577.14,430.56 578.09,431.37 579.04,432.19 579.99,433 580.95,433.82 581.9,434.64 582.85,435.46 583.8,436.28 584.75,437.1 585.7,437.92 586.65,438.74 587.61,439.56 588.56,440.38 589.51,441.19 590.46,442.01 591.41,442.83 592.36,443.65 593.31,444.46 594.26,445.28 595.22,446.09 596.17,446.9 597.12,447.71 598.07,448.52 599.02,449.33 599.97,450.13 600.92,450.93 601.88,451.73 602.83,452.53 603.78,453.32 604.73,454.11 605.68,454.9 606.63,455.68 607.58,456.46 608.54,457.23 609.49,458 610.44,458.77 611.39,459.53 612.34,460.29 613.29,461.04 614.24,461.79 615.19,462.53 616.15,463.27 617.1,464 618.05,464.73 619,465.45 619.95,466.17 620.9,466.87 621.85,467.58 622.81,468.27 623.76,468.96 624.71,469.64 625.66,470.32 626.61,470.99 627.56,471.65 628.51,472.3 629.46,472.95 630.42,473.59 631.37,474.22 632.32,474.84 633.27,475.45 634.22,476.06 635.17,476.65 636.12,477.24 637.08,477.82 638.03,478.39 638.98,478.94 639.93,479.49 640.88,480.03 641.83,480.56 642.78,481.08 643.74,481.59 644.69,482.09 645.64,482.58 646.59,483.06 647.54,483.53 648.49,483.98 649.44,484.42 650.39,484.86 651.35,485.28 652.3,485.69 653.25,486.08 654.2,486.47" fill="none" stroke="#e02a2a" stroke-width="1.15"/>
</svg>
</body></html>
